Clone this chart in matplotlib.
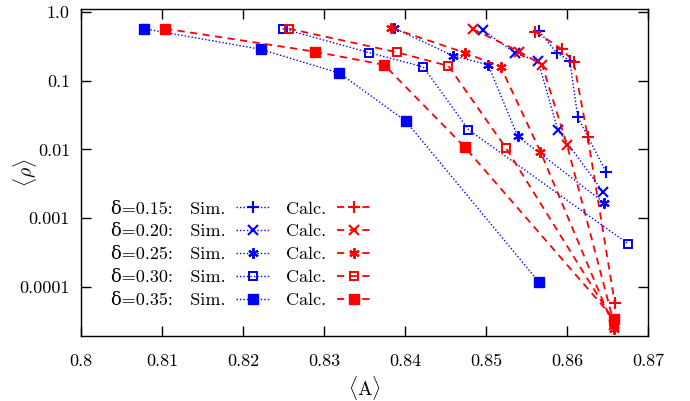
import matplotlib
matplotlib.use('Agg')
import matplotlib.pyplot as plt
import numpy as np

plt.rcParams['font.family'] = ['cmr10', 'DejaVu Serif']
plt.rcParams['mathtext.fontset'] = 'cm'
plt.rcParams['axes.formatter.use_mathtext'] = True

deltas = ['0.15', '0.20', '0.25', '0.30', '0.35']

# simulation <A>, <rho>
sim_A = [
    [0.85654, 0.85872, 0.86032, 0.86131, 0.86481],
    [0.84958, 0.85362, 0.85642, 0.85884, 0.86444],
    [0.83859, 0.84588, 0.85025, 0.85390, 0.86460],
    [0.82489, 0.83551, 0.84225, 0.84782, 0.86748],
    [0.80773, 0.82220, 0.83190, 0.84010, 0.85650],
]
sim_rho = [
    [0.518, 0.252, 0.195, 0.0294, 0.00468],
    [0.543, 0.249, 0.191, 0.0193, 0.00241],
    [0.580, 0.230, 0.169, 0.0155, 0.00167],
    [0.567, 0.255, 0.158, 0.0193, 0.00043],
    [0.567, 0.284, 0.128, 0.0257, 0.000119],
]

# calculation <A>, <rho>
calc_A = [
    [0.85605, 0.85938, 0.86081, 0.86254, 0.86587],
    [0.84840, 0.85411, 0.85691, 0.86000, 0.86584],
    [0.83831, 0.84744, 0.85180, 0.85670, 0.86584],
    [0.82563, 0.83901, 0.84535, 0.85247, 0.86584],
    [0.81037, 0.82884, 0.83741, 0.84736, 0.86584],
]
calc_rho = [
    [0.513, 0.284, 0.187, 0.0151, 5.9e-5],
    [0.554, 0.263, 0.169, 0.0114, 2.8e-5],
    [0.580, 0.252, 0.158, 0.0093, 2.5e-5],
    [0.567, 0.257, 0.163, 0.0104, 3.1e-5],
    [0.567, 0.263, 0.169, 0.0108, 3.4e-5],
]

markers = ['+', 'x', (6, 2, 0), 's', 's']
fills = ['full', 'full', 'full', 'none', 'full']
msizes = [8, 7, 7.5, 6.2, 7]
mews = [1.5, 1.5, 1.5, 1.4, 1.0]

fig = plt.figure(figsize=(6.9, 4.01), dpi=100)
ax = fig.add_axes([0.1174, 0.162, 0.8220, 0.8163])

sim_handles = []
calc_handles = []
for i in range(5):
    h1, = ax.plot(sim_A[i], sim_rho[i], color='blue', linestyle=(0, (1, 1.5)), lw=1.0,
                  marker=markers[i], fillstyle=fills[i], ms=msizes[i], mew=mews[i])
    h2, = ax.plot(calc_A[i], calc_rho[i], color='red', linestyle=(0, (4, 3)), lw=1.3,
                  marker=markers[i], fillstyle=fills[i], ms=msizes[i], mew=mews[i])
    sim_handles.append(h1)
    calc_handles.append(h2)

ax.set_yscale('log')
ax.set_xlim(0.8, 0.87)
ax.set_ylim(1.95e-5, 1.105)
ax.set_xticks([0.8, 0.81, 0.82, 0.83, 0.84, 0.85, 0.86, 0.87])
ax.set_xticklabels(['0.8', '0.81', '0.82', '0.83', '0.84', '0.85', '0.86', '0.87'])
ax.set_yticks([1e-4, 1e-3, 1e-2, 1e-1, 1.0])
ax.set_yticklabels(['0.0001', '0.001', '0.01', '0.1', '1.0'])
ax.minorticks_off()
ax.tick_params(direction='in', top=True, right=True, length=7, width=1, labelsize=13)
ax.tick_params(axis='x', pad=13)
ax.tick_params(axis='y', pad=8)
for s in ax.spines.values():
    s.set_linewidth(1.0)

ax.set_xlabel(r'$\langle\mathrm{A}\rangle$', fontsize=14, va='center')
ax.set_ylabel(r'$\langle\rho\rangle$', fontsize=14, va='center')
ax.xaxis.set_label_coords(0.5, -0.159)
ax.yaxis.set_label_coords(-0.099, 0.5)

labels = ['\u03b4=' + d + ':  \u2009\u200aSim.' for d in deltas] + ['Calc.'] * 5
ax.legend(sim_handles + calc_handles, labels, ncol=2, markerfirst=False, frameon=False,
          loc='lower left', bbox_to_anchor=(0.03, 0.047), fontsize=13, handlelength=1.9,
          handletextpad=0.6, columnspacing=0.85, labelspacing=0.4, borderpad=0.2)

plt.savefig('out.png', dpi=100)
